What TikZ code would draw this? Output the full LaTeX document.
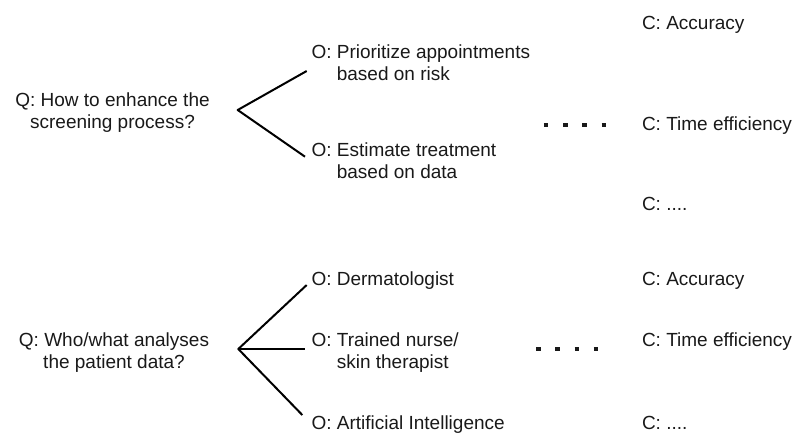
\documentclass[tikz,border=0pt]{standalone}
\usepackage{fontspec}
\setmainfont{Liberation Sans}
\begin{document}
\begin{tikzpicture}[x=1pt,y=-1pt,
  txt/.style={inner sep=0pt,outer sep=0pt,font=\fontsize{19}{22}\selectfont,text=black!90},
  branch/.style={line width=2pt,black,line join=round},
  dotline/.style={line width=4.5pt,black!90,dash pattern=on 4.5pt off 14.8pt}]
\useasboundingbox (0,0) rectangle (804,434);
\newcommand{\ind}{\hphantom{O:~}}
% ---------- top group ----------
\node[txt,anchor=base] (q1) at (112.5,106.7) {\begin{tabular}[t]{@{}c@{}}Q: How to enhance the\\screening process?\end{tabular}};
\node[txt,anchor=base west] (o1) at (311.5,58.3) {\begin{tabular}[t]{@{}l@{}}O: Prioritize appointments\\\ind based on risk\end{tabular}};
\node[txt,anchor=base west] (o2) at (311.5,156.7) {\begin{tabular}[t]{@{}l@{}}O: Estimate treatment\\\ind based on data\end{tabular}};
\node[txt,anchor=base west] (c1) at (642,29.3) {C: Accuracy};
\node[txt,anchor=base west] (c2) at (642,130) {C: Time efficiency};
\node[txt,anchor=base west] (c3) at (642,210) {C: ....};
\coordinate (v1) at (237.7,110);
\coordinate (e1) at (306.7,71);
\coordinate (e2) at (305,156.7);
\draw[branch] (e1) -- (v1) -- (e2);
\coordinate (d1a) at (543.75,125);
\coordinate (d1b) at (606.5,125);
\draw[dotline] (d1a) -- (d1b);
% ---------- bottom group ----------
\node[txt,anchor=base] (q2) at (114,346.7) {\begin{tabular}[t]{@{}c@{}}Q: Who/what analyses\\the patient data?\end{tabular}};
\node[txt,anchor=base west] (o3) at (311.5,285) {O: Dermatologist};
\node[txt,anchor=base west] (o4) at (311.5,346) {\begin{tabular}[t]{@{}l@{}}O: Trained nurse/\\\ind skin therapist\end{tabular}};
\node[txt,anchor=base west] (o5) at (311.5,429.5) {O: Artificial Intelligence};
\node[txt,anchor=base west] (c4) at (642,285) {C: Accuracy};
\node[txt,anchor=base west] (c5) at (642,346) {C: Time efficiency};
\node[txt,anchor=base west] (c6) at (642,429.5) {C: ....};
\coordinate (v2) at (238.3,349);
\coordinate (e3) at (306.7,285);
\coordinate (e4) at (305,349);
\coordinate (e5) at (302.3,415);
\draw[branch] (e3) -- (v2) -- (e5);
\draw[branch] (v2) -- (e4);
\coordinate (d2a) at (536,349);
\coordinate (d2b) at (599,349);
\draw[dotline] (d2a) -- (d2b);
\end{tikzpicture}
\end{document}
